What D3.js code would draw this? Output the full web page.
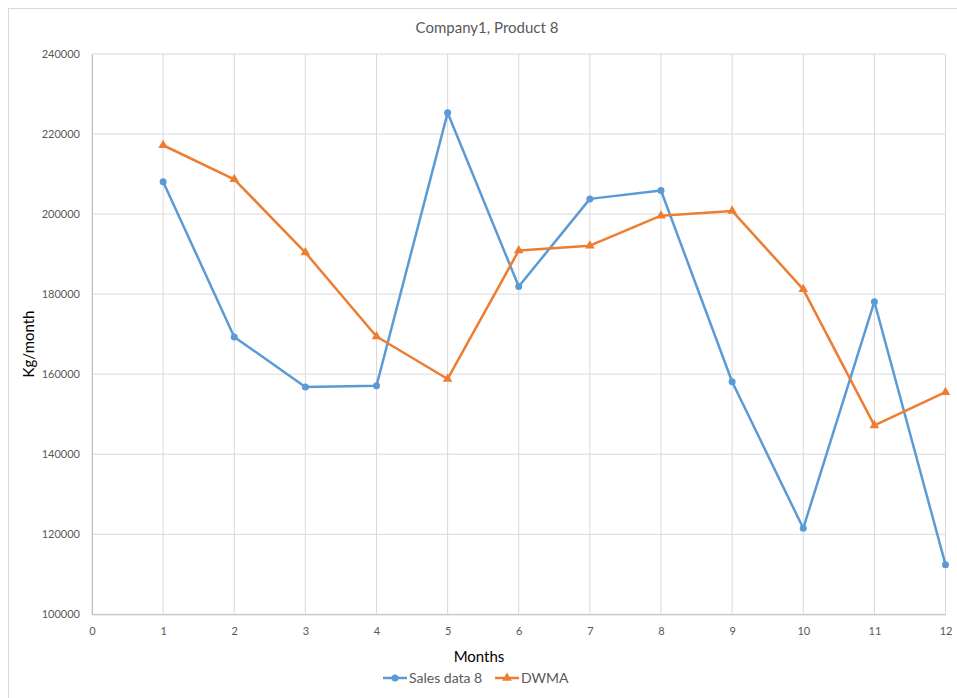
<!DOCTYPE html>
<html><head><meta charset="utf-8">
<script src="https://cdn.jsdelivr.net/npm/d3@7"></script>
<style>body{margin:0;background:#fff}svg{display:block;font-family:Lato,"Open Sans",sans-serif}</style>
</head><body><svg id="c" width="957" height="698"></svg>
<script>
const months = [1,2,3,4,5,6,7,8,9,10,11,12];
const sales = [208100,169300,156800,157100,225300,181900,203800,205900,158100,121500,178100,112400];
const dwma = [217200,208700,190400,169400,158800,190900,192100,199600,200800,181200,147200,155500];
const xTicks = [0,1,2,3,4,5,6,7,8,9,10,11,12];
const yTicks = [100000,120000,140000,160000,180000,200000,220000,240000];
const title = "Company1, Product 8";
const seriesNames = ["Sales data 8","DWMA"];

const svg = d3.select("#c");
const W=957,H=698;
const m={l:92,r:945.5,t:54,b:614.3};
svg.append("rect").attr("x",8.5).attr("y",8.5).attr("width",W).attr("height",H).attr("fill","#fff").attr("stroke","#d9d9d9");
const x=d3.scaleLinear().domain([0,12]).range([m.l,m.r]);
const y=d3.scaleLinear().domain([100000,240000]).range([m.b,m.t]);

const g=svg.append("g");
g.selectAll(".hg").data(yTicks).join("line").attr("x1",m.l).attr("x2",m.r)
 .attr("y1",d=>y(d)).attr("y2",d=>y(d)).attr("stroke","#d9d9d9").attr("stroke-width",1);
g.selectAll(".vg").data(xTicks).join("line").attr("y1",m.t).attr("y2",m.b)
 .attr("x1",d=>x(d)).attr("x2",d=>x(d)).attr("stroke","#d9d9d9").attr("stroke-width",1);

const xa=svg.append("g").attr("transform",`translate(0,${m.b})`).call(d3.axisBottom(x).tickValues(xTicks).tickSize(0).tickPadding(13).tickFormat(d3.format("d")));
xa.select(".domain").attr("stroke","#bfbfbf");
const ya=svg.append("g").attr("transform",`translate(${m.l},0)`).call(d3.axisLeft(y).tickValues(yTicks).tickSize(0).tickPadding(12).tickFormat(d3.format("d")));
ya.select(".domain").attr("stroke","#bfbfbf");
svg.selectAll(".tick text").attr("fill","#595959").style("font-size","11px").style("font-family","Lato,sans-serif");

const data1=months.map((m,i)=>[m,sales[i]]);
const data2=months.map((m,i)=>[m,dwma[i]]);
const line=d3.line().x(d=>x(d[0])).y(d=>y(d[1]));
const blue="#5B9BD5", orange="#ED7D31";
svg.append("path").datum(data1).attr("d",line).attr("fill","none").attr("stroke",blue).attr("stroke-width",2.5).attr("stroke-linejoin","round");
svg.append("path").datum(data2).attr("d",line).attr("fill","none").attr("stroke",orange).attr("stroke-width",2.5).attr("stroke-linejoin","round");
svg.selectAll(".c1").data(data1).join("circle").attr("cx",d=>x(d[0])).attr("cy",d=>y(d[1])).attr("r",3.5).attr("fill",blue);
const tri=d3.symbol().type(d3.symbolTriangle).size(40);
svg.selectAll(".t2").data(data2).join("path").attr("d",tri).attr("transform",d=>`translate(${x(d[0])},${y(d[1])})`).attr("fill",orange);

svg.append("text").attr("x",487).attr("y",33).attr("text-anchor","middle").attr("fill","#595959").style("font-size","15px").text(title);
svg.append("text").attr("x",479).attr("y",662).attr("text-anchor","middle").attr("fill","#000").style("font-size","15px").text("Months");
svg.append("text").attr("transform","translate(34,344) rotate(-90)").attr("text-anchor","middle").attr("fill","#000").style("font-size","15px").text("Kg/month");

const lg=svg.append("g");
const items=[{n:seriesNames[0],c:blue,x0:383,sym:"c"},{n:seriesNames[1],c:orange,x0:495,sym:"t"}];
items.forEach(it=>{
  lg.append("line").attr("x1",it.x0).attr("x2",it.x0+24).attr("y1",678).attr("y2",678).attr("stroke",it.c).attr("stroke-width",2.5);
  if(it.sym==="c") lg.append("circle").attr("cx",it.x0+12).attr("cy",678).attr("r",3.5).attr("fill",it.c);
  else lg.append("path").attr("d",tri).attr("transform",`translate(${it.x0+12},678)`).attr("fill",it.c);
  lg.append("text").attr("x",it.x0+26).attr("y",683).attr("fill","#595959").style("font-size","14px").text(it.n);
});
</script></body></html>
